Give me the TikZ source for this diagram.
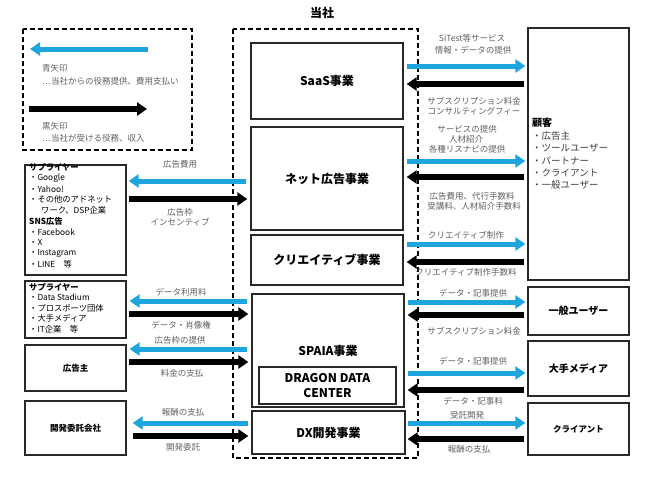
\documentclass[tikz,border=0pt]{standalone}
\usepackage{fontspec}
\setmainfont{Noto Sans CJK JP}
\usetikzlibrary{arrows.meta}
\definecolor{arrblue}{RGB}{31,165,222}
\definecolor{lblgray}{RGB}{95,95,95}
\definecolor{boxline}{RGB}{40,40,40}
\definecolor{listgray}{RGB}{60,60,60}
\tikzset{
  box/.style={draw=boxline, line width=1.3pt, inner sep=0pt, align=center, font=\bfseries\fontsize{12}{15}\selectfont},
  smallbox/.style={box, font=\bfseries\fontsize{8.5}{10}\selectfont},
  midbox/.style={box, font=\bfseries\fontsize{10}{12}\selectfont},
  emptybox/.style={draw=boxline, line width=1.3pt, inner sep=0pt},
  dashbox/.style={draw=black, line width=1.2pt, dash pattern=on 5pt off 3pt},
  bluearr/.style={draw=arrblue, line width=5pt, -{Triangle[length=10pt,width=13pt]}},
  blackarr/.style={draw=black, line width=6pt, -{Triangle[length=10pt,width=13pt]}},
  lbl/.style={font=\fontsize{8.5}{10}\selectfont, text=lblgray, inner sep=0pt},
  lst/.style={font=\fontsize{8.3}{10}\selectfont, text=black, inner sep=0pt, anchor=west},
  lstb/.style={lst, font=\bfseries\fontsize{8.3}{10}\selectfont},
  klst/.style={font=\fontsize{9.5}{11}\selectfont, text=listgray, inner sep=0pt, anchor=west},
}
\begin{document}
\begin{tikzpicture}[x=1pt,y=-1pt]
\useasboundingbox (0,0) rectangle (645,483);

% legend
\draw[dashbox] (23,29) rectangle (192,150);
\coordinate (lb1) at (148,49);
\coordinate (lb2) at (30,49);
\coordinate (lk1) at (29,109);
\coordinate (lk2) at (147,109);
\draw[bluearr] (lb1) -- (lb2);
\draw[blackarr] (lk1) -- (lk2);
\node[lbl, anchor=west] (lg1) at (42,68) {青矢印};
\node[lbl, anchor=west] (lg2) at (42,81) {…当社からの役務提供、費用支払い};
\node[lbl, anchor=west] (lg3) at (42,126) {黒矢印};
\node[lbl, anchor=west] (lg4) at (42,138) {…当社が受ける役務、収入};

% company
\draw[dashbox] (233,29) rectangle (418,458);
\node[font=\bfseries\fontsize{12}{14}\selectfont, inner sep=0pt] (tosha) at (322,13) {当社};

\node[box, minimum width=152pt, minimum height=76pt] (saas) at (327,81) {SaaS事業};
\node[box, minimum width=152pt, minimum height=103pt] (net) at (327,178.5) {ネット広告事業};
\node[box, minimum width=152pt, minimum height=50pt] (cre) at (327,260) {クリエイティブ事業};
\node[box, minimum width=152pt, minimum height=113pt] (spaia) at (328,350.5) {};
\node[box, draw=none, inner sep=0pt] (spaiat) at (328,351) {SPAIA事業};
\node[box, minimum width=137pt, minimum height=37pt] (ddc) at (327.5,385.5) {DRAGON DATA\\CENTER};
\node[box, minimum width=153pt, minimum height=43pt] (dx) at (328.5,432.5) {DX開発事業};

% right boxes
\node[emptybox, minimum width=101pt, minimum height=252pt] (kok) at (578.5,154) {};
\node[lstb, font=\bfseries\fontsize{10}{12}\selectfont] (kok0) at (532,123) {顧客};
\node[klst] (kok1) at (532,136) {・広告主};
\node[klst] (kok2) at (532,148.5) {・ツールユーザー};
\node[klst] (kok3) at (532,160.5) {・パートナー};
\node[klst] (kok4) at (532,172.5) {・クライアント};
\node[klst] (kok5) at (532,185) {・一般ユーザー};
\node[midbox, minimum width=101pt, minimum height=48pt] (ippan) at (578.5,311) {一般ユーザー};
\node[midbox, minimum width=101pt, minimum height=55pt] (media) at (578.5,368.5) {大手メディア};
\node[smallbox, minimum width=101pt, minimum height=52pt] (client) at (578.5,429) {クライアント};

% left boxes
\node[emptybox, minimum width=101pt, minimum height=110pt] (sup1) at (75.5,220) {};
\node[lstb] (s1a) at (29,167) {サプライヤー};
\node[lst] (s1b) at (29,178) {・Google};
\node[lst] (s1c) at (29,189) {・Yahoo!};
\node[lst] (s1d) at (29,199.5) {・その他のアドネット};
\node[lst] (s1e) at (41,210) {ワーク、DSP企業};
\node[lstb] (s1f) at (29,221) {SNS広告};
\node[lst] (s1g) at (29,232) {・Facebook};
\node[lst] (s1h) at (29,242.5) {・X};
\node[lst] (s1i) at (29,253) {・Instagram};
\node[lst] (s1j) at (29,264) {・LINE　等};

\node[emptybox, minimum width=101pt, minimum height=57pt] (sup2) at (75.5,309.5) {};
\node[lstb] (s2a) at (29,287) {サプライヤー};
\node[lst] (s2b) at (29,297.5) {・Data Stadium};
\node[lst] (s2c) at (29,308) {・プロスポーツ団体};
\node[lst] (s2d) at (29,318.5) {・大手メディア};
\node[lst] (s2e) at (29,329) {・IT企業　等};

\node[smallbox, minimum width=101pt, minimum height=46pt] (adv) at (75.5,368) {広告主};
\node[smallbox, minimum width=101pt, minimum height=54pt] (dev) at (75.5,428) {開発委託会社};

% left arrows
\draw[bluearr] ([xshift=-4pt]net.west |- 0,181) -- ([xshift=2pt]sup1.east |- 0,181);
\draw[blackarr] ([xshift=2pt]sup1.east |- 0,199) -- ([xshift=-3pt]net.west |- 0,199);
\node[lbl] (l1) at (180,164) {広告費用};
\node[lbl] (l2) at (180,212) {広告枠};
\node[lbl] (l3) at (180,222.5) {インセンティブ};

\draw[bluearr] ([xshift=-4pt]spaia.west |- 0,301) -- ([xshift=3pt]sup2.east |- 0,301);
\draw[blackarr] ([xshift=2pt]sup2.east |- 0,314) -- ([xshift=-3pt]spaia.west |- 0,314);
\node[lbl] (l4) at (181,292) {データ利用料};
\node[lbl] (l5) at (181,325) {データ・肖像権};

\draw[bluearr] ([xshift=-4pt]spaia.west |- 0,349) -- ([xshift=3pt]adv.east |- 0,349);
\draw[blackarr] ([xshift=2pt]adv.east |- 0,362) -- ([xshift=-3pt]spaia.west |- 0,362);
\node[lbl] (l6) at (180,340) {広告枠の提供};
\node[lbl] (l7) at (182,373) {料金の支払};

\draw[bluearr] ([xshift=-3pt]dx.west |- 0,423) -- ([xshift=6pt]dev.east |- 0,423);
\draw[blackarr] ([xshift=6pt]dev.east |- 0,436) -- ([xshift=-3pt]dx.west |- 0,436);
\node[lbl] (l8) at (183,412) {報酬の支払};
\node[lbl] (l9) at (183,447) {開発委託};

% right arrows
\draw[bluearr] ([xshift=3pt]saas.east |- 0,66) -- ([xshift=-2pt]kok.west |- 0,66);
\draw[blackarr] ([xshift=-3pt]kok.west |- 0,84) -- ([xshift=3pt]saas.east |- 0,84);
\node[lbl] (r1) at (472,38.5) {SiTest等サービス};
\node[lbl] (r2) at (473,50) {情報・データの提供};
\node[lbl] (r3) at (474,101) {サブスクリプション料金};
\node[lbl] (r4) at (474,111) {コンサルティングフィー};

\draw[bluearr] ([xshift=3pt]net.east |- 0,161) -- ([xshift=-2pt]kok.west |- 0,161);
\draw[blackarr] ([xshift=-3pt]kok.west |- 0,177) -- ([xshift=3pt]net.east |- 0,177);
\node[lbl] (r5) at (467,129) {サービスの提供};
\node[lbl] (r6) at (466,139) {人材紹介};
\node[lbl] (r7) at (467,149) {各種リスナビの提供};
\node[lbl] (r8) at (472,196) {広告費用、代行手数料};
\node[lbl] (r9) at (474,206) {受講料、人材紹介手数料};

\draw[bluearr] ([xshift=3pt]cre.east |- 0,244) -- ([xshift=-2pt]kok.west |- 0,244);
\draw[blackarr] ([xshift=-3pt]kok.west |- 0,262) -- ([xshift=3pt]cre.east |- 0,262);
\node[lbl] (r10) at (466,235) {クリエイティブ制作};
\node[lbl] (r11) at (466,272) {クリエイティブ制作手数料};

\draw[bluearr] ([xshift=3pt]spaia.east |- 0,302) -- ([xshift=-2pt]ippan.west |- 0,302);
\draw[blackarr] ([xshift=-3pt]ippan.west |- 0,315) -- ([xshift=3pt]spaia.east |- 0,315);
\node[lbl] (r12) at (473,293) {データ・記事提供};
\node[lbl] (r13) at (474,331) {サブスクリプション料金};

\draw[bluearr] ([xshift=3pt]spaia.east |- 0,373) -- ([xshift=-2pt]media.west |- 0,373);
\draw[blackarr] ([xshift=-3pt]media.west |- 0,390) -- ([xshift=3pt]spaia.east |- 0,390);
\node[lbl] (r14) at (473,361) {データ・記事提供};
\node[lbl] (r15) at (473,401) {データ・記事料};

\draw[bluearr] ([xshift=2pt]dx.east |- 0,423) -- ([xshift=-2pt]client.west |- 0,423);
\draw[blackarr] ([xshift=-3pt]client.west |- 0,439) -- ([xshift=2pt]dx.east |- 0,439);
\node[lbl] (r16) at (467,415) {受託開発};
\node[lbl] (r17) at (469,449) {報酬の支払};
\end{tikzpicture}
\end{document}
